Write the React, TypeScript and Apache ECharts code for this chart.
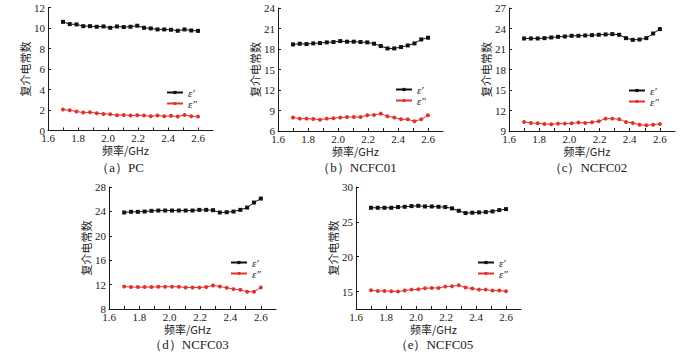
import React, { useEffect, useRef } from "react";
import * as echarts from "echarts";

// Frequencies (GHz)
const freq = [1.7, 1.745, 1.79, 1.835, 1.88, 1.925, 1.97, 2.015, 2.06, 2.105, 2.15, 2.195, 2.24, 2.285, 2.33, 2.375, 2.42, 2.465, 2.51, 2.555, 2.6];

// (a) PC
const pcReal = [10.6, 10.38, 10.35, 10.18, 10.18, 10.12, 10.15, 10.02, 10.15, 10.09, 10.12, 10.22, 10.02, 9.96, 9.86, 9.86, 9.83, 9.73, 9.86, 9.76, 9.72];
const pcImag = [2.04, 1.98, 1.85, 1.75, 1.78, 1.69, 1.62, 1.59, 1.49, 1.52, 1.46, 1.49, 1.46, 1.39, 1.46, 1.39, 1.43, 1.36, 1.52, 1.39, 1.36];
// (b) NCFC01
const c01Real = [18.67, 18.77, 18.72, 18.82, 18.87, 18.97, 19.02, 19.16, 19.07, 19.07, 19.02, 18.97, 18.77, 18.43, 18.08, 18.08, 18.28, 18.52, 18.82, 19.4, 19.65];
const c01Imag = [7.96, 7.81, 7.81, 7.76, 7.66, 7.81, 7.86, 7.96, 8.05, 8.05, 8.05, 8.3, 8.35, 8.54, 8.15, 7.96, 7.71, 7.71, 7.42, 7.71, 8.3];
// (c) NCFC02
const c02Real = [22.54, 22.54, 22.54, 22.59, 22.69, 22.78, 22.83, 22.93, 22.93, 22.98, 23.03, 23.08, 23.13, 23.18, 23.08, 22.59, 22.34, 22.39, 22.59, 23.27, 23.91];
const c02Imag = [10.32, 10.18, 10.13, 10.03, 9.98, 10.08, 10.08, 10.13, 10.23, 10.18, 10.28, 10.42, 10.81, 10.81, 10.72, 10.32, 10.18, 9.93, 9.83, 9.93, 10.03];
// (d) NCFC03
const c03Real = [23.82, 23.93, 23.93, 23.98, 24.09, 24.14, 24.14, 24.14, 24.14, 24.14, 24.14, 24.25, 24.25, 24.2, 23.82, 23.87, 23.98, 24.25, 24.63, 25.45, 26.1];
const c03Imag = [11.7, 11.59, 11.59, 11.59, 11.59, 11.64, 11.64, 11.64, 11.64, 11.53, 11.53, 11.53, 11.59, 11.86, 11.7, 11.48, 11.26, 11.15, 10.83, 10.83, 11.53];
// (e) NCFC05
const c05Real = [27.02, 27.02, 27.02, 27.02, 27.12, 27.16, 27.26, 27.3, 27.21, 27.21, 27.16, 27.12, 26.93, 26.59, 26.26, 26.31, 26.36, 26.4, 26.5, 26.69, 26.83];
const c05Imag = [15.19, 15.09, 15.09, 15.05, 15.0, 15.14, 15.28, 15.33, 15.47, 15.52, 15.52, 15.71, 15.76, 15.9, 15.57, 15.43, 15.28, 15.28, 15.14, 15.14, 15.05];

// Tick labels
const xTickLabels = [1.6, 1.8, 2.0, 2.2, 2.4, 2.6];
const xMinorTicks = [1.6, 1.7, 1.8, 1.9, 2.0, 2.1, 2.2, 2.3, 2.4, 2.5, 2.6];
const yTicksA = [0, 2, 4, 6, 8, 10, 12];
const yTicksB = [6, 9, 12, 15, 18, 21, 24];
const yTicksC = [9, 12, 15, 18, 21, 24, 27];
const yTicksD = [8, 12, 16, 20, 24, 28];
const yTicksE = [15, 20, 25, 30];

const captions = ["（a）PC", "（b）NCFC01", "（c）NCFC02", "（d）NCFC03", "（e）NCFC05"];
const realName = "ε′";
const imagName = "ε″";
const xName = "频率/GHz";
const yName = "复介电常数";

const SERIF = "'Times New Roman', 'Liberation Serif', 'DejaVu Serif', serif";
const CJK = "'Noto Sans CJK SC', sans-serif";
const BLACK = "#111111";
const RED = "#e3322e";
const INK = "#1a1a1a";

const panels = [
  { real: pcReal, imag: pcImag, yMin: 0, yMax: 12, yTicks: yTicksA, grid: { left: 48, top: 7.5, width: 165, height: 123 }, cap: [120, 167], leg: [166, 87] },
  { real: c01Real, imag: c01Imag, yMin: 6, yMax: 24, yTicks: yTicksB, grid: { left: 278, top: 8, width: 165, height: 123 }, cap: [357, 167], leg: [395, 84] },
  { real: c02Real, imag: c02Imag, yMin: 9, yMax: 27, yTicks: yTicksC, grid: { left: 509, top: 8, width: 166, height: 123 }, cap: [588, 167], leg: [628, 85] },
  { real: c03Real, imag: c03Imag, yMin: 8, yMax: 28, yTicks: yTicksD, grid: { left: 109, top: 187, width: 167, height: 122 }, cap: [189, 344], leg: [230, 257] },
  { real: c05Real, imag: c05Imag, yMin: 12.5, yMax: 30, yTicks: yTicksE, grid: { left: 356, top: 187, width: 165, height: 122 }, cap: [434, 344], leg: [477, 257] },
];

export default function App() {
  const ref = useRef<HTMLDivElement>(null);
  useEffect(() => {
    if (!ref.current) return;
    const chart = echarts.init(ref.current, undefined, { renderer: "svg" });
    const axisLine = { show: true, onZero: false, lineStyle: { color: INK, width: 1 } };
    const grids: any[] = [];
    const xAxes: any[] = [];
    const yAxes: any[] = [];
    const series: any[] = [];
    const legends: any[] = [];
    const graphics: any[] = [];
    panels.forEach((p, i) => {
      grids.push({ ...p.grid, containLabel: false });
      xAxes.push({
        type: "value",
        gridIndex: i,
        min: 1.6,
        max: 2.7,
        axisLine,
        splitLine: { show: false },
        axisTick: { show: true, inside: true, length: 3, customValues: xMinorTicks, lineStyle: { color: INK } },
        axisLabel: {
          customValues: xTickLabels,
          formatter: (v: number) => v.toFixed(1),
          fontFamily: SERIF,
          fontSize: 11,
          color: INK,
          margin: 2,
        },
        name: xName,
        nameLocation: "middle",
        nameGap: 14,
        nameTextStyle: { fontFamily: CJK, fontSize: 11, color: INK, padding: [0, 10, 0, 0] },
      });
      yAxes.push({
        type: "value",
        gridIndex: i,
        min: p.yMin,
        max: p.yMax,
        axisLine,
        splitLine: { show: false },
        axisTick: { show: true, inside: true, length: 3, customValues: p.yTicks, lineStyle: { color: INK } },
        axisLabel: { customValues: p.yTicks, fontFamily: SERIF, fontSize: 11, color: INK, margin: 3 },
        name: yName,
        nameLocation: "middle",
        nameGap: 15,
        nameTextStyle: { fontFamily: CJK, fontSize: 11, color: INK },
      });
      const mk = (vals: number[]) => freq.map((f, j) => [f, vals[j]]);
      series.push({
        type: "line",
        name: realName,
        xAxisIndex: i,
        yAxisIndex: i,
        data: mk(p.real),
        symbol: "rect",
        symbolSize: 4,
        lineStyle: { color: BLACK, width: 1 },
        itemStyle: { color: BLACK },
      });
      series.push({
        type: "line",
        name: imagName,
        xAxisIndex: i,
        yAxisIndex: i,
        data: mk(p.imag),
        symbol: "circle",
        symbolSize: 4,
        lineStyle: { color: RED, width: 1 },
        itemStyle: { color: RED },
      });
      legends.push({
        orient: "vertical",
        left: p.leg[0],
        top: p.leg[1],
        itemWidth: 16,
        itemHeight: 4,
        itemGap: 0,
        padding: 0,
        selectedMode: false,
        data: [realName, imagName],
        textStyle: { fontFamily: SERIF, fontStyle: "italic", fontSize: 11, lineHeight: 10, color: INK },
      });
      graphics.push({
        type: "text",
        x: p.cap[0],
        y: p.cap[1],
        style: {
          text: captions[i],
          fontFamily: SERIF,
          fontSize: 13,
          fill: INK,
          align: "center",
          verticalAlign: "middle",
        },
      });
    });
    chart.setOption({
      animation: false,
      backgroundColor: "#ffffff",
      grid: grids,
      xAxis: xAxes,
      yAxis: yAxes,
      series,
      legend: legends,
      graphic: graphics,
    });
    return () => chart.dispose();
  }, []);
  return (
    <div
      ref={ref}
      style={{ position: "fixed", left: 0, top: 0, width: 700, height: 354, background: "#fff" }}
    />
  );
}
